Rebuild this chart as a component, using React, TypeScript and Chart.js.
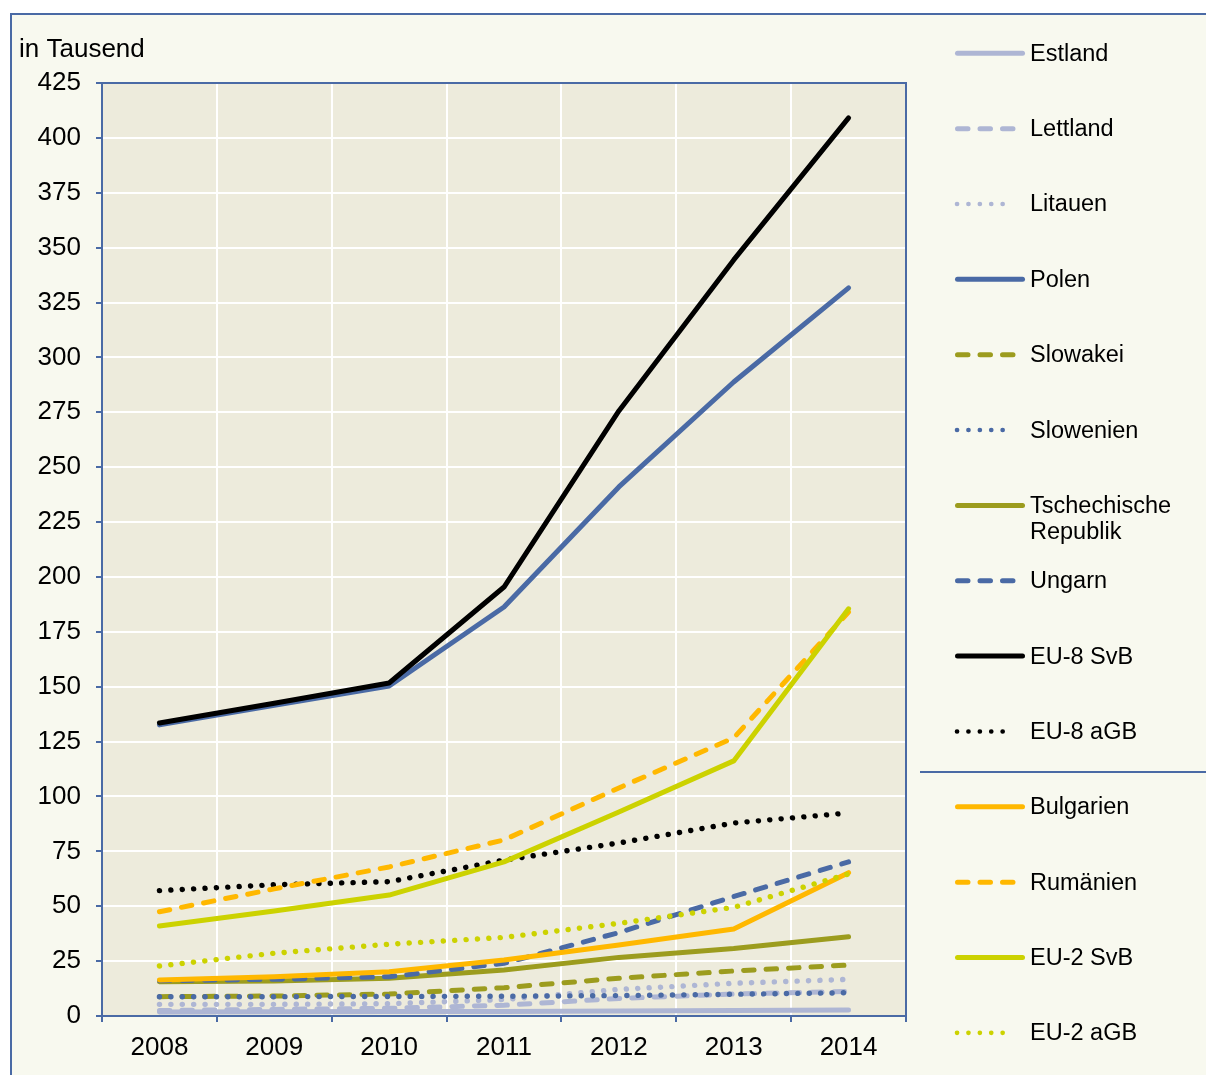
import React, { useEffect, useRef } from "react";
import { Chart, registerables } from "chart.js";

Chart.register(...registerables);

const years = ["2008", "2009", "2010", "2011", "2012", "2013", "2014"];

const estland = [1.8, 1.9, 2.0, 2.1, 2.3, 2.5, 2.7];
const lettland = [2.5, 3.0, 3.5, 4.9, 8.0, 10.0, 11.2];
const litauen = [5.3, 5.3, 5.6, 7.5, 12.1, 14.9, 16.7];
const polen = [132.6, 141.5, 150.3, 186.3, 241.0, 288.8, 331.7];
const slowakei = [8.8, 9.1, 10.0, 12.9, 17.2, 20.5, 23.2];
const slowenien = [8.8, 8.8, 8.9, 9.0, 9.3, 9.9, 10.6];
const tschechien = [15.6, 15.9, 17.2, 21.0, 26.7, 30.7, 36.1];
const ungarn = [16.1, 16.7, 17.9, 24.0, 38.0, 54.4, 70.2];
const eu8SvB = [133.5, 142.5, 151.7, 195.4, 275.6, 344.4, 409.1];
const eu8aGB = [57.1, 59.8, 61.2, 71.0, 78.8, 87.9, 92.5];
const bulgarien = [16.4, 17.9, 20.2, 25.5, 32.3, 39.6, 65.3];
const rumaenien = [47.5, 57.9, 67.9, 80.2, 103.9, 126.7, 184.0];
const eu2SvB = [41.0, 47.8, 55.1, 70.2, 92.9, 116.2, 185.5];
const eu2aGB = [22.8, 28.6, 32.7, 35.8, 42.2, 49.5, 64.7];

const yTicksMax = 425;
const yTicksStep = 25;
const unitLabel = "in Tausend";

const LIGHT = "#AEB6D4";
const BLUE = "#4A6AA5";
const OLIVE = "#9C9C1E";
const BLACK = "#000000";
const ORANGE = "#FFB800";
const LIME = "#CCD200";

type Style = "solid" | "dash" | "dot";

const seriesDefs: { label: string[]; data: number[]; color: string; style: Style }[] = [
  { label: ["Estland"], data: estland, color: LIGHT, style: "solid" },
  { label: ["Lettland"], data: lettland, color: LIGHT, style: "dash" },
  { label: ["Litauen"], data: litauen, color: LIGHT, style: "dot" },
  { label: ["Polen"], data: polen, color: BLUE, style: "solid" },
  { label: ["Slowakei"], data: slowakei, color: OLIVE, style: "dash" },
  { label: ["Slowenien"], data: slowenien, color: BLUE, style: "dot" },
  { label: ["Tschechische", "Republik"], data: tschechien, color: OLIVE, style: "solid" },
  { label: ["Ungarn"], data: ungarn, color: BLUE, style: "dash" },
  { label: ["EU-8 SvB"], data: eu8SvB, color: BLACK, style: "solid" },
  { label: ["EU-8 aGB"], data: eu8aGB, color: BLACK, style: "dot" },
  { label: ["Bulgarien"], data: bulgarien, color: ORANGE, style: "solid" },
  { label: ["Rumänien"], data: rumaenien, color: ORANGE, style: "dash" },
  { label: ["EU-2 SvB"], data: eu2SvB, color: LIME, style: "solid" },
  { label: ["EU-2 aGB"], data: eu2aGB, color: LIME, style: "dot" },
];

const FONT = "'Liberation Sans', Arial, sans-serif";
const AXIS_COLOR = "#4A6AA5";
const OUTER_BG = "#F8F9EF";
const PLOT_BG = "#EDEBDC";

const DASH = [10.5, 12];
const DOT = [0.1, 11.3];

function dashFor(s: Style): number[] {
  return s === "dash" ? DASH : s === "dot" ? DOT : [];
}

const decorPlugin = {
  id: "decor",
  beforeDraw(chart: any) {
    const { ctx, chartArea, width, height } = chart;
    ctx.save();
    ctx.fillStyle = "#FFFFFF";
    ctx.fillRect(0, 0, width, height);
    ctx.fillStyle = OUTER_BG;
    ctx.fillRect(11, 14, width - 11, height - 14);
    ctx.strokeStyle = AXIS_COLOR;
    ctx.lineWidth = 2;
    ctx.beginPath();
    ctx.moveTo(11, height);
    ctx.lineTo(11, 14);
    ctx.lineTo(width, 14);
    ctx.stroke();
    ctx.fillStyle = PLOT_BG;
    ctx.fillRect(chartArea.left, chartArea.top, chartArea.right - chartArea.left, chartArea.bottom - chartArea.top);
    ctx.restore();
  },
  afterDraw(chart: any) {
    const { ctx, chartArea, width } = chart;
    ctx.save();
    // plot frame top / right
    ctx.strokeStyle = AXIS_COLOR;
    ctx.lineWidth = 2;
    ctx.beginPath();
    ctx.moveTo(chartArea.left, chartArea.top);
    ctx.lineTo(chartArea.right, chartArea.top);
    ctx.lineTo(chartArea.right, chartArea.bottom);
    ctx.stroke();

    // unit label
    ctx.fillStyle = "#000";
    ctx.font = `26px ${FONT}`;
    ctx.textBaseline = "alphabetic";
    ctx.textAlign = "left";
    ctx.fillText(unitLabel, 19, 57);

    // legend
    const x0 = 955;
    const textX = 1030;
    const top = 53.3;
    const step = 75.35;
    ctx.font = `23.5px ${FONT}`;
    seriesDefs.forEach((s, i) => {
      const y = top + i * step;
      ctx.strokeStyle = s.color;
      ctx.lineCap = "round";
      ctx.lineWidth = s.style === "dot" ? 4.6 : 5;
      ctx.setLineDash(dashFor(s.style));
      ctx.beginPath();
      if (s.style === "solid") {
        ctx.moveTo(x0 + 2.5, y);
        ctx.lineTo(x0 + 67.5, y);
      } else if (s.style === "dash") {
        ctx.moveTo(x0 + 2.5, y);
        ctx.lineTo(x0 + 58.5, y);
      } else {
        ctx.moveTo(x0 + 2, y);
        ctx.lineTo(x0 + 59, y);
      }
      ctx.stroke();
      ctx.setLineDash([]);
      ctx.fillStyle = "#000";
      ctx.textBaseline = "middle";
      s.label.forEach((line, k) => {
        ctx.fillText(line, textX, y + 1 + k * 26.5);
      });
      if (i === 9) {
        ctx.strokeStyle = AXIS_COLOR;
        ctx.lineWidth = 2;
        ctx.lineCap = "butt";
        ctx.beginPath();
        ctx.moveTo(920, 772);
        ctx.lineTo(width, 772);
        ctx.stroke();
      }
    });
    ctx.restore();
  },
};

export default function App() {
  const canvasRef = useRef<HTMLCanvasElement | null>(null);

  useEffect(() => {
    if (!canvasRef.current) return;
    const chart = new Chart(canvasRef.current, {
      type: "line",
      data: {
        labels: years,
        datasets: seriesDefs.map((s, i) => ({
          label: s.label.join(" "),
          data: s.data,
          borderColor: s.color,
          backgroundColor: s.color,
          borderWidth: s.style === "dot" ? 5.4 : 5,
          borderDash: dashFor(s.style),
          borderCapStyle: "round" as const,
          borderJoinStyle: "round" as const,
          pointRadius: 0,
          pointHoverRadius: 0,
          tension: 0,
          fill: false,
          order: -i,
        })),
      },
      options: {
        responsive: false,
        animation: false,
        devicePixelRatio: 1,
        layout: { padding: { top: 83, right: 300, left: 0, bottom: 0 } },
        plugins: {
          legend: { display: false },
          tooltip: { enabled: false },
          title: { display: false },
        },
        events: [],
        scales: {
          x: {
            type: "category",
            offset: true,
            grid: {
              offset: true,
              color: "#FFFFFF",
              lineWidth: 2,
              tickColor: AXIS_COLOR,
              tickLength: 6,
              tickWidth: 2,
            },
            border: { color: AXIS_COLOR, width: 2 },
            ticks: {
              color: "#000",
              font: { family: FONT, size: 26 },
              padding: 10,
              maxRotation: 0,
            },
            afterFit: (s: any) => {
              s.height = 59;
            },
          },
          y: {
            min: 0,
            max: yTicksMax,
            grid: {
              color: "#FFFFFF",
              lineWidth: 2,
              tickColor: AXIS_COLOR,
              tickLength: 6,
              tickWidth: 2,
            },
            border: { color: AXIS_COLOR, width: 2 },
            ticks: {
              stepSize: yTicksStep,
              color: "#000",
              font: { family: FONT, size: 26 },
              padding: 15,
            },
            afterFit: (s: any) => {
              s.width = 102;
            },
          },
        },
      },
      plugins: [decorPlugin],
    });
    return () => chart.destroy();
  }, []);

  return (
    <div style={{ position: "absolute", left: 0, top: 0, width: 1206, height: 1075, overflow: "hidden" }}>
      <canvas ref={canvasRef} width={1206} height={1075} style={{ display: "block", width: 1206, height: 1075 }} />
    </div>
  );
}
